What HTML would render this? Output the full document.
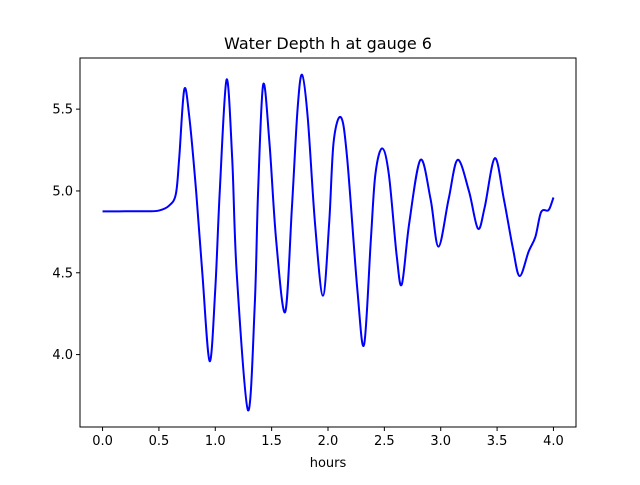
<!DOCTYPE html>
<html><head><meta charset="utf-8"><style>
body{margin:0;background:#fff;}
svg text{font-family:"DejaVu Sans","Liberation Sans",sans-serif;fill:#000;}
</style></head><body>
<svg id="chart" width="640" height="480" xmlns="http://www.w3.org/2000/svg">
<rect width="640" height="480" fill="#fff"/>
<text x="328" y="49" font-size="16" text-anchor="middle">Water Depth h at gauge 6</text>
<text x="328" y="467" font-size="13" text-anchor="middle">hours</text>
<g id="plot"></g>
<rect x="80" y="58" width="496" height="369" fill="none" stroke="#000" stroke-width="1"/>
</svg>
<script>
const times=[0,0.1,0.2,0.3,0.4,0.5,0.59,0.65,0.68,0.725,0.77,0.83,0.885,0.95,1.0,1.04,1.10,1.15,1.19,1.29,1.35,1.38,1.425,1.48,1.54,1.62,1.68,1.73,1.77,1.82,1.885,1.955,2.01,2.05,2.115,2.17,2.26,2.32,2.38,2.42,2.48,2.54,2.61,2.655,2.72,2.82,2.91,2.98,3.07,3.15,3.25,3.33,3.39,3.48,3.56,3.64,3.70,3.78,3.84,3.89,3.95,3.97,4.0];
const depths=[4.875,4.875,4.876,4.876,4.876,4.88,4.91,4.98,5.2,5.62,5.45,5.0,4.5,3.96,4.4,5.0,5.68,5.2,4.5,3.66,4.3,5.0,5.65,5.3,4.7,4.26,4.9,5.5,5.71,5.45,4.8,4.36,4.8,5.3,5.45,5.2,4.4,4.06,4.7,5.1,5.26,5.1,4.6,4.43,4.8,5.19,4.95,4.66,4.95,5.19,5.0,4.77,4.9,5.2,4.95,4.65,4.48,4.63,4.72,4.87,4.88,4.9,4.96];
const xTicks=[0.0,0.5,1.0,1.5,2.0,2.5,3.0,3.5,4.0];
const yTicks=[4.0,4.5,5.0,5.5];
const L=80,R=576,T=58,B=427,NS="http://www.w3.org/2000/svg";
const xmin=Math.min(...times),xmax=Math.max(...times),xm=(xmax-xmin)*0.05;
const ymin=Math.min(...depths),ymax=Math.max(...depths),ym=(ymax-ymin)*0.05;
const sx=v=>L+(v-(xmin-xm))/((xmax+xm)-(xmin-xm))*(R-L);
const sy=v=>B-(v-(ymin-ym))/((ymax+ym)-(ymin-ym))*(B-T);
const g=document.getElementById('plot');
function mk(t,a){const e=document.createElementNS(NS,t);for(const k in a)e.setAttribute(k,a[k]);g.appendChild(e);return e;}
xTicks.forEach(v=>{const x=sx(v);
const l=mk('line',{x1:x,x2:x,y1:B,y2:B+4,stroke:'#000'});


const t=mk('text',{x:x,y:B+18,'font-size':13,'text-anchor':'middle'});t.textContent=v.toFixed(1);

});
yTicks.forEach(v=>{const y=sy(v);
const l=mk('line',{x1:L-4,x2:L,y1:y,y2:y,stroke:'#000'});


const t=mk('text',{x:L-7,y:y+4.5,'font-size':13,'text-anchor':'end'});t.textContent=v.toFixed(1);

});
const P=times.map((t,i)=>[sx(t),sy(depths[i])]);
let d='M'+P[0][0]+','+P[0][1];
for(let i=0;i<P.length-1;i++){const p0=P[Math.max(0,i-1)],p1=P[i],p2=P[i+1],p3=P[Math.min(P.length-1,i+2)];
const c1=[p1[0]+(p2[0]-p0[0])/6,p1[1]+(p2[1]-p0[1])/6],c2=[p2[0]-(p3[0]-p1[0])/6,p2[1]-(p3[1]-p1[1])/6];
d+=` C${c1[0]},${c1[1]} ${c2[0]},${c2[1]} ${p2[0]},${p2[1]}`;}
const line=mk('path',{d:d,fill:'none',stroke:'#0000ff','stroke-width':2,'stroke-linejoin':'round'});


</script>
</body></html>
